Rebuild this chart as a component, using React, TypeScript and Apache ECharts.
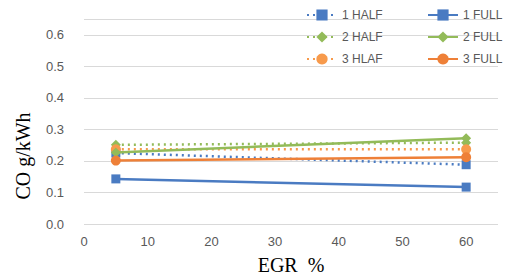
import React, { useEffect, useRef } from "react";
import * as echarts from "echarts";

const xValues = [5, 60];
const half1 = [0.225, 0.188];
const full1 = [0.143, 0.117];
const half2 = [0.251, 0.258];
const full2 = [0.227, 0.272];
const half3 = [0.237, 0.237];
const full3 = [0.201, 0.212];
const seriesNames = ["1 HALF", "1 FULL", "2 HALF", "2 FULL", "3 HLAF", "3 FULL"];
const yTitle = "CO g/kWh";
const xTitle = "EGR  %";

const BLUE = "#4A7BC2";
const GREEN = "#93BB59";
const ORANGE_H = "#F79A4C";
const ORANGE_F = "#EE8038";

export default function App() {
  const ref = useRef<HTMLDivElement>(null);
  useEffect(() => {
    if (!ref.current) return;
    const chart = echarts.init(ref.current, undefined, { renderer: "svg" });
    const mk = (name: string, vals: number[], color: string, dotted: boolean, symbol: string, size: number) => ({
      name,
      type: "line",
      data: xValues.map((x, i) => [x, vals[i]]),
      symbol,
      symbolSize: size,
      itemStyle: { color },
      lineStyle: { color, width: 2.5, type: dotted ? [2, 4] : "solid" },
      z: dotted ? 2 : 3,
    });
    const legendText = { color: "#595959", fontSize: 12, fontFamily: "Liberation Sans, Arial, sans-serif" };
    const serif = "Liberation Serif, Times New Roman, serif";
    chart.setOption({
      animation: false,
      backgroundColor: "#fff",
      grid: { left: 84, right: 18, top: 19, bottom: 55.5 },
      graphic: [
        {
          type: "text",
          x: 23,
          y: 156,
          rotation: Math.PI / 2,
          style: {
            text: yTitle,
            fontFamily: serif,
            fontSize: 20,
            fill: "#000",
            textAlign: "center",
            textVerticalAlign: "middle",
          },
        },
      ],
      legend: [
        {
          data: [seriesNames[0], seriesNames[2], seriesNames[4]],
          orient: "vertical",
          left: 301,
          top: 4,
          itemWidth: 30,
          itemHeight: 14,
          itemGap: 10,
          textStyle: legendText,
        },
        {
          data: [seriesNames[1], seriesNames[3], seriesNames[5]],
          orient: "vertical",
          left: 422,
          top: 4,
          itemWidth: 30,
          itemHeight: 14,
          itemGap: 10,
          textStyle: legendText,
        },
      ],
      xAxis: {
        type: "value",
        min: 0,
        max: 65,
        interval: 10,
        name: xTitle,
        nameLocation: "middle",
        nameGap: 31,
        nameTextStyle: { fontFamily: serif, fontSize: 20, color: "#000" },
        axisLine: { show: false },
        axisTick: { show: false },
        splitLine: { show: false },
        axisLabel: {
          color: "#595959",
          fontSize: 13,
          margin: 11,
          fontFamily: "Liberation Sans, Arial, sans-serif",
          showMaxLabel: false,
        },
      },
      yAxis: {
        type: "value",
        min: 0,
        max: 0.65,
        interval: 0.1,
        axisLine: { show: false },
        axisTick: { show: false },
        splitLine: { lineStyle: { color: "#D9D9D9", width: 1 } },
        axisLabel: {
          color: "#595959",
          fontSize: 13,
          margin: 20,
          fontFamily: "Liberation Sans, Arial, sans-serif",
          formatter: (v: number) => (v > 0.61 ? "" : v.toFixed(1)),
        },
      },
      series: [
        mk(seriesNames[0], half1, BLUE, true, "rect", 9),
        mk(seriesNames[1], full1, BLUE, false, "rect", 9),
        mk(seriesNames[2], half2, GREEN, true, "diamond", 10),
        mk(seriesNames[3], full2, GREEN, false, "diamond", 10),
        mk(seriesNames[4], half3, ORANGE_H, true, "circle", 10),
        mk(seriesNames[5], full3, ORANGE_F, false, "circle", 10),
      ],
    });
    return () => chart.dispose();
  }, []);
  return <div ref={ref} style={{ width: 516, height: 280, position: "absolute", left: 0, top: 0 }} />;
}
